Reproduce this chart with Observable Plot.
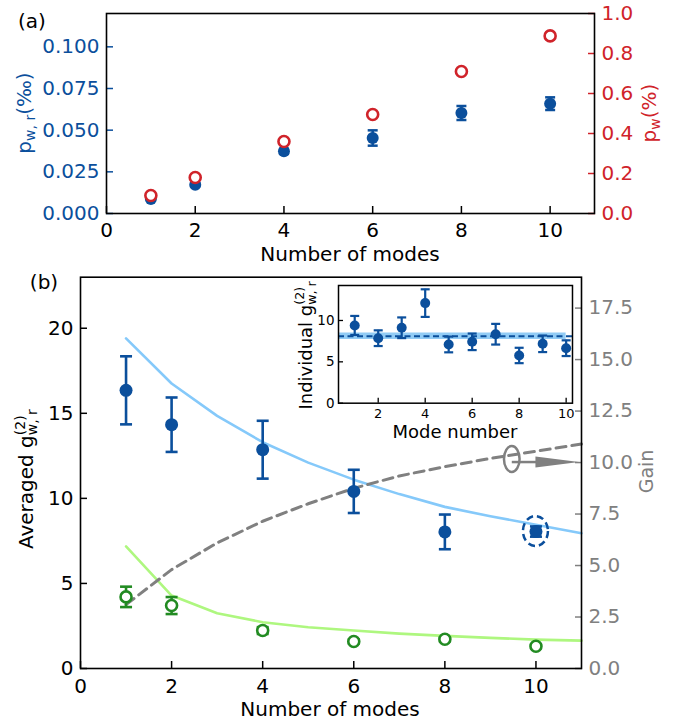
<!DOCTYPE html>
<html><head><meta charset="utf-8">
<script src="https://cdn.jsdelivr.net/npm/d3@7"></script>
<script src="https://cdn.jsdelivr.net/npm/@observablehq/plot@0.6"></script>
<style>
body{margin:0;background:#fff;}
#fig{position:relative;width:678px;height:723px;background:#fff;font-family:"DejaVu Sans";}
#fig svg{position:absolute;overflow:visible;}
</style></head><body><div id="fig"></div>
<script>
// ---------- data ----------
const modesA = [1, 2, 4, 6, 8, 10];
const pwr = [0.0087, 0.0172, 0.0373, 0.0453, 0.0603, 0.0659];
const pwrErr = [0.0007, 0.0009, 0.0015, 0.0046, 0.0042, 0.0038];
const pw = [0.09, 0.18, 0.36, 0.495, 0.71, 0.888];

const modesB = [1, 2, 4, 6, 8, 10];
const g2Avg = [16.35, 14.33, 12.86, 10.41, 8.03, 8.05];
const g2AvgErr = [2.0, 1.6, 1.7, 1.27, 1.02, 0.3];
const g2Green = [4.21, 3.7, 2.23, 1.59, 1.72, 1.31];
const g2GreenErr = [0.6, 0.5, 0.2, 0.12, 0.12, 0.12];

const theoryN = [1, 2, 3, 4, 5, 6, 7, 8, 9, 10, 11];
const theoryBlue = [19.4, 16.75, 14.85, 13.3, 12.1, 11.1, 10.25, 9.5, 8.95, 8.45, 7.95];
const theoryGreen = [7.18, 4.29, 3.25, 2.72, 2.42, 2.23, 2.05, 1.92, 1.8, 1.7, 1.64];
const gain = [3.1, 4.8, 6.1, 7.15, 8.0, 8.75, 9.35, 9.8, 10.2, 10.55, 10.9];

const modeNum = [1, 2, 3, 4, 5, 6, 7, 8, 9, 10];
const g2Ind = [9.4, 7.86, 9.12, 12.1, 7.1, 7.42, 8.34, 5.77, 7.18, 6.65];
const g2IndErr = [1.15, 0.95, 1.25, 1.67, 0.95, 1.0, 1.25, 0.93, 1.0, 0.95];
const g2IndMean = 8.1;
const g2IndBand = 0.4;
const bandN = [0, 10];

const xTicks = [0, 2, 4, 6, 8, 10];
const yTicksA = [0, 0.025, 0.05, 0.075, 0.1];
const yTicksARight = [0, 0.2, 0.4, 0.6, 0.8, 1.0];
const yTicksB = [0, 5, 10, 15, 20];
const yTicksBRight = [0, 2.5, 5, 7.5, 10, 12.5, 15, 17.5];
const insetXTicks = [2, 4, 6, 8, 10];
const insetYTicks = [0, 5, 10];

// ---------- style ----------
const BLUE = "#0b4f9c", RED = "#d0232a", GREEN = "#228b22";
const LBLUE = "#85c9fa", LGREEN = "#aef77f", GRAY = "#808080";
const FONT = "DejaVu Sans";

const A_MAX = 0.12, A_RMAX = 1.0, A_R = A_MAX / A_RMAX;
const B_MAX = 23, B_RMAX = 19, B_R = B_MAX / B_RMAX;

const capSym = {draw(ctx, size) { const w = Math.sqrt(size / Math.PI); ctx.moveTo(-w, 0); ctx.lineTo(w, 0); }};

function errorBars(data, x, y, e, color, sw, capR) {
  return [
    Plot.ruleX(data, {x, y1: d => d[y] - d[e], y2: d => d[y] + d[e], stroke: color, strokeWidth: sw}),
    Plot.dot(data, {x, y: d => d[y] + d[e], symbol: capSym, r: capR, stroke: color, strokeWidth: sw, fill: "none"}),
    Plot.dot(data, {x, y: d => d[y] - d[e], symbol: capSym, r: capR, stroke: color, strokeWidth: sw, fill: "none"})
  ];
}

function mathLabel(svg, {x, y, rotate = false, size = 20, fill = "black", base, sup, sub, after}) {
  const t = d3.select(svg).append("text").attr("font-family", FONT).attr("font-size", size).attr("fill", fill);
  t.append("tspan").text(base);
  let supW = 0, subW = 0;
  const s2 = size * 0.7;
  if (sup) {
    const s = t.append("tspan").attr("font-size", s2).attr("dy", -size * 0.42).text(sup);
    supW = s.node().getComputedTextLength();
  }
  if (sub) {
    const s = t.append("tspan").attr("font-size", s2)
      .attr("dx", sup ? -supW : 0)
      .attr("dy", sup ? size * 0.42 + size * 0.22 : size * 0.22).text(sub);
    subW = s.node().getComputedTextLength();
  }
  if (after) {
    t.append("tspan").attr("font-size", size)
      .attr("dy", sub ? -size * 0.22 : (sup ? size * 0.42 : 0))
      .attr("dx", (sup && sub && supW > subW) ? supW - subW : 0).text(after);
  }
  const bb = t.node().getBBox();
  t.attr("transform", `translate(${x},${y})${rotate ? " rotate(-90)" : ""} translate(${-bb.x - bb.width / 2},${-bb.y - bb.height / 2})`);
  return t;
}

const fig = document.getElementById("fig");

// ---------- panel (a) ----------
const dataA = modesA.map((n, i) => ({n, pwr: pwr[i], err: pwrErr[i], pw: pw[i]}));
const plotA = Plot.plot({
  width: 678, height: 265,
  marginLeft: 106, marginRight: 84, marginTop: 13, marginBottom: 52,
  x: {domain: [0, 11]},
  y: {domain: [0, A_MAX]},
  style: {fontFamily: FONT, fontSize: "20px", background: "white", overflow: "visible"},
  marks: [
    ...errorBars(dataA, "n", "pwr", "err", BLUE, 2.5, 5),
    Plot.dot(dataA, {x: "n", y: "pwr", r: 6, fill: BLUE}),
    Plot.dot(dataA, {x: "n", y: d => d.pw * A_R, r: 5.5, stroke: RED, strokeWidth: 2.6, fill: "white"}),
    Plot.axisX({ticks: xTicks, tickSize: -7, tickPadding: 16, label: null, fontSize: 20, stroke: "black", fill: "black", strokeWidth: 1.5}),
    Plot.axisY({anchor: "left", ticks: yTicksA, tickFormat: d3.format(".3f"), tickSize: -7, tickPadding: 14, label: null, fontSize: 20, stroke: BLUE, fill: BLUE, strokeWidth: 1.5}),
    Plot.axisY({anchor: "right", ticks: yTicksARight.map(v => v * A_R), tickFormat: d => (d / A_R).toFixed(1), tickSize: -7, tickPadding: 14, label: null, fontSize: 20, stroke: RED, fill: RED, strokeWidth: 1.5}),
    Plot.frame({stroke: "black", strokeWidth: 1.6})
  ]
});
plotA.style.left = "0px"; plotA.style.top = "0px";
fig.appendChild(plotA);
mathLabel(plotA, {x: 32, y: 21, base: "(a)"});
mathLabel(plotA, {x: 25, y: 113, rotate: true, fill: BLUE, base: "p", sub: "w, r", after: "(‰)"});
mathLabel(plotA, {x: 650, y: 113, rotate: true, fill: RED, base: "p", sub: "w", after: "(%)"});
mathLabel(plotA, {x: 350, y: 254, base: "Number of modes"});

// ---------- panel (b) ----------
const dataB = modesB.map((n, i) => ({n, g: g2Avg[i], e: g2AvgErr[i], gg: g2Green[i], ge: g2GreenErr[i]}));
const theory = theoryN.map((n, i) => ({n, blue: theoryBlue[i], green: theoryGreen[i], gain: gain[i]}));
const plotB = Plot.plot({
  width: 678, height: 458,
  marginLeft: 80, marginRight: 97, marginTop: 11.7, marginBottom: 55,
  x: {domain: [0, 11]},
  y: {domain: [0, B_MAX]},
  style: {fontFamily: FONT, fontSize: "20px", background: "white", overflow: "visible"},
  marks: [
    Plot.line(theory, {x: "n", y: "blue", stroke: LBLUE, strokeWidth: 2.6}),
    Plot.line(theory, {x: "n", y: "green", stroke: LGREEN, strokeWidth: 2.6}),
    Plot.line(theory, {x: "n", y: d => d.gain * B_R, stroke: GRAY, strokeWidth: 3, strokeDasharray: "10,6"}),
    ...errorBars(dataB, "n", "g", "e", BLUE, 2.6, 6),
    Plot.dot(dataB, {x: "n", y: "g", r: 6.5, fill: BLUE}),
    ...errorBars(dataB, "n", "gg", "ge", GREEN, 2.6, 6),
    Plot.dot(dataB, {x: "n", y: "gg", r: 5.5, stroke: GREEN, strokeWidth: 2.6, fill: "white"}),
    Plot.axisX({ticks: xTicks, tickSize: -7, tickPadding: 17, label: null, fontSize: 20, stroke: "black", fill: "black", strokeWidth: 1.5}),
    Plot.axisY({anchor: "left", ticks: yTicksB, tickSize: -7, tickPadding: 14, label: null, fontSize: 20, stroke: "black", fill: "black", strokeWidth: 1.5}),
    Plot.axisY({anchor: "right", ticks: yTicksBRight.map(v => v * B_R), tickFormat: d => (d / B_R).toFixed(1), tickSize: -7, tickPadding: 14, label: null, fontSize: 20, stroke: GRAY, fill: GRAY, strokeWidth: 1.5}),
    Plot.frame({stroke: "black", strokeWidth: 1.6})
  ]
});
plotB.style.left = "0px"; plotB.style.top = "265px";
fig.appendChild(plotB);
{
  const sx = plotB.scale("x"), sy = plotB.scale("y");
  const g = d3.select(plotB).append("g");
  // ellipse + arrow pointing to gain axis
  const ex = sx.apply(9.48), ey = sy.apply(10.15 * B_R);
  const ay = sy.apply(10.0 * B_R);
  const xh = sx.apply(10.0), xt = sx.apply(11);
  g.append("line").attr("x1", ex).attr("x2", xh + 2).attr("y1", ay).attr("y2", ay).attr("stroke", GRAY).attr("stroke-width", 2.5);
  g.append("path").attr("d", `M${xh},${ay - 5.5}L${xt - 2},${ay}L${xh},${ay + 5.5}Z`).attr("fill", GRAY);
  g.append("ellipse").attr("cx", ex).attr("cy", ey).attr("rx", 7.8).attr("ry", 13).attr("fill", "none").attr("stroke", GRAY).attr("stroke-width", 2.5);
  // dashed circle around N=10 point
  g.append("ellipse").attr("cx", sx.apply(10)).attr("cy", sy.apply(8.05)).attr("rx", 12.5).attr("ry", 15)
    .attr("fill", "none").attr("stroke", BLUE).attr("stroke-width", 2.5).attr("stroke-dasharray", "7,4");
}
mathLabel(plotB, {x: 44, y: 282 - 265, base: "(b)"});
mathLabel(plotB, {x: 26, y: 479 - 265, rotate: true, base: "Averaged g", sup: "(2)", sub: "w, r"});
mathLabel(plotB, {x: 646, y: 471.5 - 265, rotate: true, fill: GRAY, size: 19, base: "Gain"});
mathLabel(plotB, {x: 330, y: 708.5 - 265, base: "Number of modes"});

// ---------- inset ----------
const dataI = modeNum.map((n, i) => ({n, g: g2Ind[i], e: g2IndErr[i]}));
const bandData = bandN.map(n => ({n, lo: g2IndMean - g2IndBand, hi: g2IndMean + g2IndBand}));
const plotI = Plot.plot({
  width: 304, height: 167.7,
  marginLeft: 60, marginRight: 10, marginTop: 5, marginBottom: 45,
  x: {domain: [0.31, 10.27]},
  y: {domain: [0, 14.23]},
  style: {fontFamily: FONT, fontSize: "13px", background: "transparent", overflow: "visible"},
  marks: [
    Plot.frame({fill: "white"}),
    Plot.areaY(bandData, {x: "n", y1: "lo", y2: "hi", fill: "#7fc3f3", fillOpacity: 0.85, clip: true}),
    Plot.ruleY([g2IndMean], {stroke: BLUE, strokeWidth: 2, strokeDasharray: "6,3.5"}),
    ...errorBars(dataI, "n", "g", "e", BLUE, 2.2, 4.5),
    Plot.dot(dataI, {x: "n", y: "g", r: 5, fill: BLUE}),
    Plot.axisX({ticks: insetXTicks, tickSize: -5, tickPadding: 11, label: null, fontSize: 13, stroke: "black", fill: "black", strokeWidth: 1.3}),
    Plot.axisY({anchor: "left", ticks: insetYTicks, tickSize: -5, tickPadding: 9, label: null, fontSize: 13.5, stroke: "black", fill: "black", strokeWidth: 1.3}),
    Plot.frame({stroke: "black", strokeWidth: 1.5})
  ]
});
plotI.style.left = "277.7px"; plotI.style.top = "280px";
fig.appendChild(plotI);
mathLabel(plotI, {x: 305 - 277.7, y: 345 - 280, rotate: true, size: 18, base: "Individual g", sup: "(2)", sub: "w, r"});
mathLabel(plotI, {x: 455 - 277.7, y: 431.5 - 280, size: 18, base: "Mode number"});
</script></body></html>
